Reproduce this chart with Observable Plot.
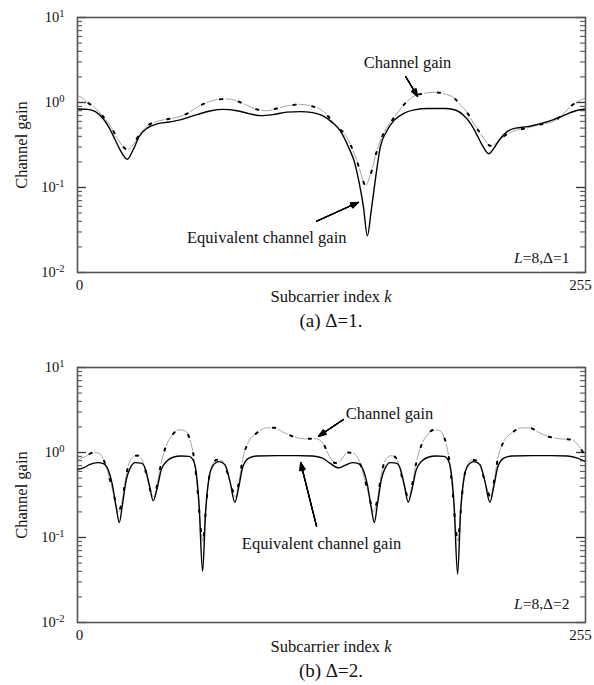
<!DOCTYPE html>
<html><head><meta charset="utf-8">
<script src="https://cdn.jsdelivr.net/npm/d3@7"></script>
<script src="https://cdn.jsdelivr.net/npm/@observablehq/plot@0.6"></script>
<style>
body{margin:0;background:#fff;}
#wrap{position:relative;width:594px;height:685px;color:#111;background:#fff;}
#wrap, #wrap *, #wrap svg text, #wrap svg tspan{font-family:"Liberation Serif","DejaVu Serif",serif !important;}
.panel{position:absolute;left:0;}
.lbl{position:absolute;white-space:nowrap;line-height:20px;}
.ylab{position:absolute;white-space:nowrap;font-size:16.5px;line-height:20px;transform:translate(-50%,-50%) rotate(-90deg);}
</style></head><body><div id="wrap"></div>
<script>
// ---------- data: panel (a) L=8, Δ=1 ----------
const kEqA = [0,5,9,13,16,19,22,25,28,31,35,40,46,52,60,67,73,80,86,92,98,105,112,118,123,128,132,136,139,141.5,143.5,145.5,147.5,150,152,155,159,164,169,176,185,190,194,197,200,203,206.5,209,212,216,220,226,232,239,245,251,255];
const gainEqA = [0.84,0.83,0.78,0.64,0.5,0.36,0.26,0.215,0.28,0.4,0.5,0.56,0.59,0.63,0.72,0.8,0.83,0.8,0.74,0.7,0.72,0.77,0.78,0.76,0.7,0.58,0.46,0.3,0.2,0.11,0.06,0.027,0.055,0.15,0.3,0.45,0.62,0.75,0.82,0.85,0.85,0.81,0.7,0.58,0.44,0.32,0.25,0.29,0.37,0.46,0.5,0.52,0.56,0.63,0.72,0.81,0.84];
const kChA = [0,2,5,8,12,16.5,20,23,25,28,31,35,40,44,50,55,60,65,70,75,80,85,90,95,100,106,112,118,122,126,130,134,137,140,142.5,144.6,147,150.5,154,158.8,164,169,174,179,184,189,192,195.6,199,202,205,207,210,214,219,225.7,232,239,244,247.5,251,255];
const gainChA = [1.2,1.15,1.0,0.9,0.72,0.53,0.38,0.3,0.28,0.32,0.42,0.53,0.6,0.63,0.67,0.74,0.88,1.0,1.08,1.1,1.04,0.93,0.83,0.8,0.85,0.92,0.95,0.9,0.83,0.68,0.52,0.43,0.32,0.215,0.14,0.105,0.14,0.28,0.45,0.66,0.95,1.19,1.28,1.32,1.27,1.13,0.95,0.76,0.56,0.44,0.35,0.31,0.33,0.4,0.46,0.5,0.55,0.6,0.74,0.9,1.02,1.13];

// ---------- data: panel (b) L=8, Δ=2 ----------
const kEqB = [0,3,6,10,13,15.5,17.5,19.5,21,22.5,24.5,26.5,29,32,34,36,38,40,42,45,48,52,56,58,59.5,61,62.8,64.3,66,68,71,74,76.5,79,81,83,86,90,100,110,118,123,127,131,134,138,141,143.5,145.5,147.5,149,150.5,152.5,154.5,157,160,162,164,166,168,170,173,176,180,184,186,187.5,189,190.8,192.3,194,196,199,202,204.5,207,209,211,214,218,228,238,246,251,255];
const gainEqB = [0.63,0.66,0.72,0.76,0.74,0.62,0.42,0.22,0.15,0.24,0.48,0.66,0.76,0.75,0.65,0.42,0.27,0.38,0.62,0.8,0.88,0.91,0.9,0.82,0.6,0.25,0.04,0.2,0.5,0.7,0.78,0.72,0.46,0.26,0.4,0.68,0.86,0.91,0.92,0.92,0.91,0.86,0.74,0.66,0.7,0.76,0.74,0.62,0.42,0.22,0.15,0.24,0.48,0.66,0.76,0.75,0.65,0.42,0.26,0.38,0.62,0.8,0.88,0.91,0.9,0.82,0.6,0.25,0.037,0.2,0.5,0.7,0.78,0.72,0.46,0.26,0.4,0.68,0.86,0.91,0.92,0.92,0.91,0.86,0.78];
const kChB = [0,4,8,11,13.5,16,18.5,20.5,22.5,24.5,27,30,32.5,35,37,38.5,40,42,44.5,47.5,51,54,56.5,58.5,60.3,62,63,64,65.5,67.5,70,72.5,75,77.5,79.3,81,83,86,90,95,99,103,108,114,120,123.5,126.5,129.5,132,135.5,139,141.5,144,146.5,148.5,150.5,152.5,155,158,160.5,163,165,166.5,168,170,172.5,175.5,179,182,184.5,186.5,188.3,190,191,192,193.5,195.5,198,200.5,203,205.5,207.3,209,211,214,218,223,227,231,236,242,248,251.5,255];
const gainChB = [0.82,0.9,1.0,0.97,0.78,0.5,0.3,0.2,0.28,0.55,0.85,0.92,0.82,0.5,0.33,0.3,0.42,0.75,1.2,1.6,1.85,1.8,1.4,0.85,0.35,0.12,0.09,0.16,0.4,0.7,0.82,0.8,0.6,0.38,0.3,0.45,0.85,1.35,1.7,1.95,1.95,1.75,1.55,1.45,1.45,1.25,0.9,0.75,0.8,1.0,0.97,0.78,0.5,0.3,0.2,0.28,0.55,0.85,0.92,0.82,0.5,0.33,0.3,0.42,0.75,1.2,1.6,1.85,1.8,1.4,0.85,0.35,0.12,0.09,0.16,0.4,0.7,0.82,0.8,0.6,0.38,0.3,0.45,0.85,1.35,1.7,1.95,1.95,1.75,1.55,1.45,1.42,1.2,0.9];

// ---------- axis ticks ----------
const majorTicks = [0.01, 0.1, 1, 10];
const minorTicks = [0.02,0.03,0.04,0.05,0.06,0.07,0.08,0.09,0.2,0.3,0.4,0.5,0.6,0.7,0.8,0.9,2,3,4,5,6,7,8,9];
const xTickFirst = [0];
const xTickLast = [255];
const yTitle = "Channel gain";
const xTitle = "Subcarrier index";
const xTitleVar = "k";
const chLabel = "Channel gain";
const eqLabel = "Equivalent channel gain";

// ---------- annotations (data coordinates) ----------
const notesA = {
  ch: {k: 165.7, v: 2.94}, chArrow: {k1: 164.7, v1: 2.02, k2: 170.7, v2: 1.18},
  eq: {k: 95, v: 0.0255}, eqArrow: {k1: 120, v1: 0.040, k2: 141, v2: 0.067},
  param: {k: 247, v: 0.0148, delta: "1"}
};
const notesB = {
  ch: {k: 156.6, v: 2.88}, chArrow: {k1: 133.5, v1: 2.45, k2: 121, v2: 1.55},
  eq: {k: 122.5, v: 0.085}, eqArrow: {k1: 120, v1: 0.135, k2: 112, v2: 0.76},
  param: {k: 247, v: 0.0163, delta: "2"}
};

const SVGNS = "http://www.w3.org/2000/svg";
const FONT = "'Liberation Serif', 'DejaVu Serif', serif";
const zip = (ks, vs) => ks.map((k, i) => ({k, v: vs[i]}));

function panel(kEq, gEq, kCh, gCh, notes) {
  const eq = zip(kEq, gEq), ch = zip(kCh, gCh);
  const innerW = 594 - 77 - 9;
  const arrowsHead = [12, 22, 32, 42];
  const arrowMarks = [];
  for (const a of [notes.chArrow, notes.eqArrow]) {
    for (const ang of arrowsHead) {
      arrowMarks.push(Plot.arrow([a], {x1: "k1", y1: "v1", x2: "k2", y2: "v2", stroke: "#000", strokeWidth: 1.2, headLength: 10, headAngle: ang}));
    }
  }
  const svg = Plot.plot({
    width: 594, height: 309,
    marginLeft: 77, marginRight: 9, marginTop: 17, marginBottom: 37,
    style: {fontFamily: FONT, fontSize: "15px", background: "transparent", color: "#111"},
    x: {domain: [0, 255]},
    y: {type: "log", domain: [0.01, 10]},
    marks: [
      Plot.axisX({ticks: xTickFirst, tickSize: 0, tickPadding: 7, tickFormat: d => String(d), label: null, fontSize: 15, dx: 2}),
      Plot.axisX({ticks: xTickLast, tickSize: 0, tickPadding: 7, tickFormat: d => String(d), label: null, fontSize: 15, dx: -5}),
      Plot.axisY({ticks: majorTicks, tickSize: 0, tickPadding: 13, tickFormat: d => "10^" + Math.round(Math.log10(d)), label: null, fontSize: 14.5}),
      Plot.tickY(minorTicks, {y: d => d, insetRight: innerW - 5, stroke: "#444", strokeWidth: 1}),
      Plot.tickY(majorTicks, {y: d => d, insetRight: innerW - 9, stroke: "#333", strokeWidth: 1.3}),
      Plot.tickY(minorTicks, {y: d => d, insetLeft: innerW - 5, stroke: "#444", strokeWidth: 1}),
      Plot.tickY(majorTicks, {y: d => d, insetLeft: innerW - 9, stroke: "#333", strokeWidth: 1.3}),
      Plot.line(ch, {x: "k", y: "v", curve: "monotone-x", stroke: "#999", strokeWidth: 0.9, strokeDasharray: "11 8"}),
      Plot.line(ch, {x: "k", y: "v", curve: "monotone-x", stroke: "#000", strokeWidth: 2, strokeDasharray: "2.4 16.6", strokeDashoffset: -13.3}),
      Plot.line(eq, {x: "k", y: "v", curve: "monotone-x", stroke: "#000", strokeWidth: 1.4}),
      ...arrowMarks,
      Plot.text([notes.ch], {x: "k", y: "v", text: () => chLabel, fontSize: 16.5, fill: "#111", fontFamily: FONT}),
      Plot.text([notes.eq], {x: "k", y: "v", text: () => eqLabel, fontSize: 16.5, fill: "#111", fontFamily: FONT}),
      Plot.text([notes.param], {x: "k", y: "v", text: d => "L=8,Δ=" + d.delta, textAnchor: "end", fontSize: 15.5, fill: "#111", fontFamily: FONT}),
      Plot.frame({stroke: "#555", strokeWidth: 1.6})
    ]
  });
  svg.querySelectorAll('g[aria-label="y-axis tick label"] text').forEach(t => {
    const parts = t.textContent.split("^");
    if (parts.length === 2) {
      t.textContent = parts[0];
      const ts = document.createElementNS(SVGNS, "tspan");
      ts.setAttribute("dy", "-0.5em");
      ts.setAttribute("font-size", "10.5");
      ts.textContent = parts[1];
      t.appendChild(ts);
    }
  });
  svg.querySelectorAll("text").forEach(t => {
    if (t.textContent.startsWith("L=8")) {
      const rest = t.textContent.slice(1);
      t.textContent = "";
      const a = document.createElementNS(SVGNS, "tspan");
      a.setAttribute("font-style", "italic");
      a.textContent = "L";
      const b = document.createElementNS(SVGNS, "tspan");
      b.textContent = rest;
      t.appendChild(a); t.appendChild(b);
    }
  });
  return svg;
}

const wrap = document.getElementById("wrap");
function addPanel(top, svg, caption) {
  svg.classList.add("panel");
  svg.style.top = top + "px";
  wrap.appendChild(svg);
  const frameTop = top + 17, frameBot = top + 309 - 37;
  const yl = document.createElement("div");
  yl.className = "ylab";
  yl.style.left = "22px";
  yl.style.top = ((frameTop + frameBot) / 2) + "px";
  yl.textContent = yTitle;
  wrap.appendChild(yl);
  const xl = document.createElement("div");
  xl.className = "lbl";
  xl.style.fontSize = "16.5px";
  xl.style.left = "331px";
  xl.style.top = (frameBot + 25) + "px";
  xl.style.transform = "translate(-50%,-50%)";
  xl.innerHTML = xTitle + " <i>" + xTitleVar + "</i>";
  wrap.appendChild(xl);
  const cp = document.createElement("div");
  cp.className = "lbl";
  cp.style.fontSize = "19px";
  cp.style.left = "331px";
  cp.style.top = (frameBot + 49) + "px";
  cp.style.transform = "translate(-50%,-50%)";
  cp.textContent = caption;
  wrap.appendChild(cp);
}
addPanel(0, panel(kEqA, gainEqA, kChA, gainChA, notesA), "(a) Δ=1.");
addPanel(350, panel(kEqB, gainEqB, kChB, gainChB, notesB), "(b) Δ=2.");
</script>
</body></html>
